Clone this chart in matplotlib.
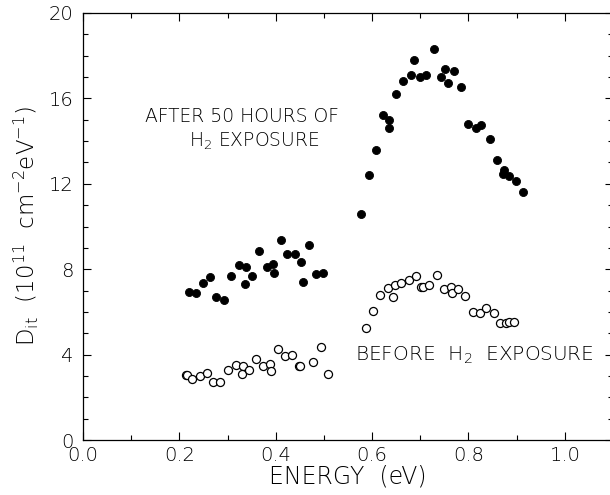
import matplotlib
matplotlib.use('Agg')
import matplotlib.pyplot as plt
from matplotlib.ticker import MultipleLocator

# Filled circles: after 50 hours of H2 exposure
after_energy = [0.220, 0.234, 0.249, 0.264, 0.277, 0.293, 0.308, 0.323, 0.338, 0.336,
                0.350, 0.365, 0.381, 0.394, 0.397, 0.410, 0.424, 0.441, 0.453, 0.469,
                0.484, 0.456, 0.499,
                0.578, 0.593, 0.609, 0.622, 0.636, 0.636, 0.650, 0.665, 0.680, 0.688,
                0.700, 0.712, 0.728, 0.742, 0.752, 0.758, 0.770, 0.784,
                0.800, 0.815, 0.827, 0.844, 0.859, 0.874, 0.871, 0.885, 0.899, 0.914]
after_dit = [6.95, 6.87, 7.34, 7.63, 6.68, 6.54, 7.68, 8.20, 8.12, 7.29,
             7.68, 8.84, 8.10, 8.25, 7.80, 9.38, 8.70, 8.71, 8.34, 9.15,
             7.76, 7.41, 7.82,
             10.58, 12.42, 13.59, 15.2, 14.99, 14.60, 16.2, 16.8, 17.1, 17.8,
             17.0, 17.1, 18.3, 17.0, 17.4, 16.7, 17.3, 16.55,
             14.80, 14.60, 14.75, 14.10, 13.11, 12.65, 12.44, 12.38, 12.15, 11.62]

# Open circles: before H2 exposure
before_energy = [0.213, 0.215, 0.227, 0.242, 0.258, 0.270, 0.285, 0.301, 0.317, 0.332,
                 0.330, 0.345, 0.359, 0.374, 0.388, 0.390, 0.404, 0.419, 0.434, 0.448,
                 0.450, 0.477, 0.493, 0.508,
                 0.587, 0.602, 0.616, 0.632, 0.644, 0.647, 0.661, 0.676, 0.691, 0.702,
                 0.705, 0.719, 0.734, 0.750, 0.764, 0.766, 0.778, 0.793, 0.809, 0.824,
                 0.837, 0.852, 0.866, 0.878, 0.884, 0.895]
before_dit = [3.04, 3.04, 2.84, 3.00, 3.15, 2.70, 2.70, 3.26, 3.53, 3.47,
              3.08, 3.26, 3.81, 3.48, 3.54, 3.25, 4.26, 3.93, 4.00, 3.48,
              3.48, 3.65, 4.37, 3.08,
              5.26, 6.03, 6.81, 7.10, 6.71, 7.24, 7.37, 7.51, 7.68, 7.18,
              7.18, 7.28, 7.73, 7.06, 7.15, 6.87, 7.09, 6.76, 5.98, 5.95,
              6.17, 5.93, 5.47, 5.47, 5.53, 5.51]

x_ticks = [0.0, 0.2, 0.4, 0.6, 0.8, 1.0]
x_tick_labels = ['0.0', '0.2', '0.4', '0.6', '0.8', '1.0']
y_ticks = [0, 4, 8, 12, 16, 20]
y_tick_labels = ['0', '4', '8', '12', '16', '20']

plt.rcParams['font.family'] = ['DejaVu Sans']
plt.rcParams['font.weight'] = 'light'
plt.rcParams['axes.labelweight'] = 'light'
plt.rcParams['mathtext.fontset'] = 'custom'
plt.rcParams['mathtext.rm'] = 'DejaVu Sans:light'
plt.rcParams['mathtext.it'] = 'DejaVu Sans:light'
plt.rcParams['mathtext.default'] = 'rm'

fig = plt.figure(figsize=(6.10, 4.95), dpi=100)
ax = fig.add_axes([83 / 610, 1 - 440 / 495, 530 / 610, 427 / 495])

ax.plot(after_energy, after_dit, 'o', color='black', markersize=5.8,
        markeredgewidth=0.6, linestyle='none')
ax.plot(before_energy, before_dit, 'o', markerfacecolor='white',
        markeredgecolor='black', markersize=5.8, markeredgewidth=0.9,
        linestyle='none')

ax.set_xlim(0.0, 1.1)
ax.set_ylim(0, 20)
ax.set_xticks(x_ticks)
ax.set_xticklabels(x_tick_labels)
ax.set_yticks(y_ticks)
ax.set_yticklabels(y_tick_labels)
ax.xaxis.set_minor_locator(MultipleLocator(0.1))
ax.yaxis.set_minor_locator(MultipleLocator(1))

ax.tick_params(which='both', direction='in', top=True, right=True,
               width=0.8, labelsize=14)
ax.tick_params(which='major', length=6)
ax.tick_params(which='minor', length=3.5)
ax.tick_params(axis='x', pad=4)
ax.tick_params(axis='y', pad=7)
for sp in ax.spines.values():
    sp.set_linewidth(0.9)

ax.set_xlabel('ENERGY  (eV)', fontsize=17, labelpad=0, fontweight='light')
ax.set_ylabel('D$_{it}$  (10$^{11}$  cm$^{-2}$eV$^{-1}$)', fontsize=16.5,
              labelpad=5, fontweight='light')

ax.text(0.33, 15.15, 'AFTER 50 HOURS OF', fontsize=13.5, ha='center', va='center')
ax.text(0.356, 14.0, 'H$_2$ EXPOSURE', fontsize=13.5, ha='center', va='center')
ax.text(0.812, 3.98, 'BEFORE  H$_2$  EXPOSURE', fontsize=14.5, ha='center', va='center')

fig.savefig('out.png', dpi=100)
